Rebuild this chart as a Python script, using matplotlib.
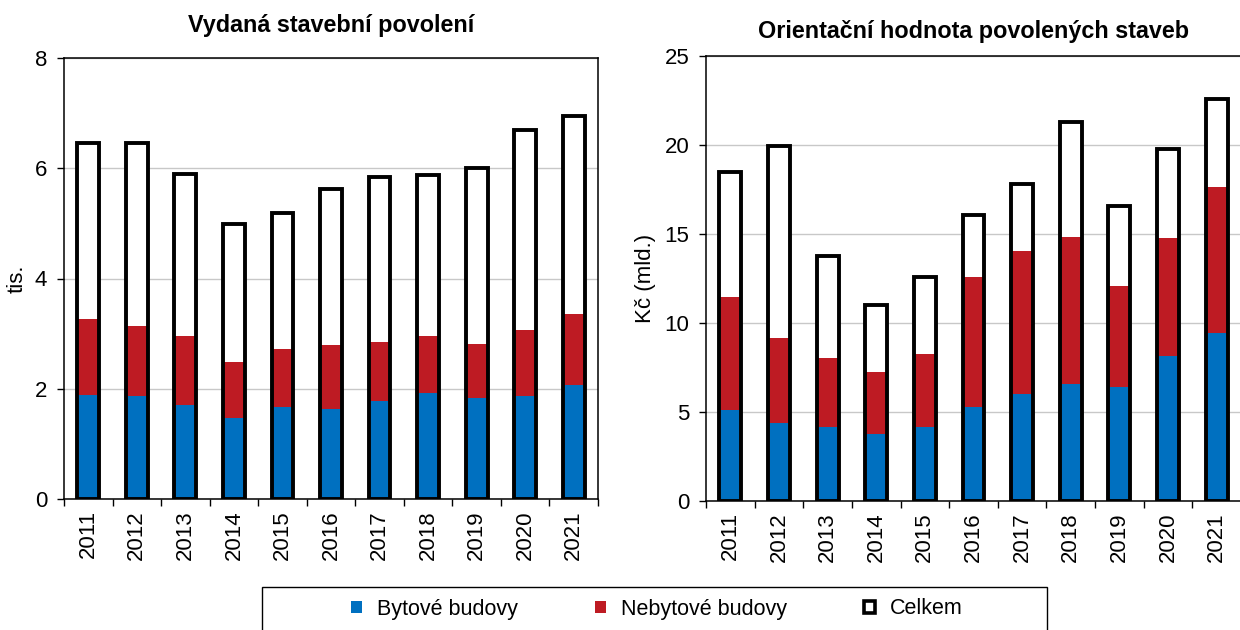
import numpy as np
import matplotlib
matplotlib.use("Agg")
import matplotlib.pyplot as plt
from matplotlib.patches import Patch, Rectangle

plt.rcParams['font.family'] = ['Liberation Sans', 'DejaVu Sans']

years = ['2011', '2012', '2013', '2014', '2015', '2016', '2017', '2018', '2019', '2020', '2021']

# vydana stavebni povoleni (tis.)
count_byt = [1.88, 1.86, 1.71, 1.47, 1.67, 1.63, 1.77, 1.92, 1.84, 1.86, 2.07]
count_nebyt = [1.39, 1.28, 1.25, 1.02, 1.06, 1.16, 1.08, 1.04, 0.97, 1.20, 1.28]
count_total = [6.45, 6.46, 5.89, 4.98, 5.18, 5.62, 5.84, 5.87, 6.01, 6.69, 6.95]

# orientacni hodnota (mld. Kc)
value_byt = [5.09, 4.40, 4.16, 3.76, 4.16, 5.26, 5.99, 6.55, 6.42, 8.13, 9.42]
value_nebyt = [6.37, 4.76, 3.85, 3.47, 4.12, 7.32, 8.05, 8.26, 5.66, 6.63, 8.22]
value_total = [18.48, 19.94, 13.74, 10.99, 12.60, 16.07, 17.81, 21.27, 16.59, 19.78, 22.57]

blue = '#0070c0'
red = '#be1b23'
W = 1240.0
H = 630.0
FS = 16


def panel(rect, byt, nebyt, total, ymax, ystep, title, ylabel, tpad, lpad):
    ax = fig.add_axes([rect[0] / W, 1 - rect[3] / H, (rect[2] - rect[0]) / W, (rect[3] - rect[1]) / H])
    x = np.arange(len(years))
    w = 0.45
    ax.bar(x, total, w, color='white', zorder=2)
    ax.bar(x, byt, w, color=blue, zorder=3)
    ax.bar(x, nebyt, w, bottom=byt, color=red, zorder=3)
    ax.bar(x, total, w, facecolor='none', edgecolor='black', linewidth=2.8, zorder=4)

    ax.set_xlim(-0.5, len(years) - 0.5)
    ax.set_ylim(0, ymax)
    ax.set_yticks(np.arange(0, ymax + 0.1, ystep))
    ax.yaxis.grid(True, color='#c8c8c8', linewidth=1)
    ax.set_axisbelow(True)

    ax.set_xticks(x)
    ax.set_xticklabels(years, rotation=90)
    ax.set_xticks(np.arange(-0.5, len(years)), minor=True)
    ax.tick_params(axis='x', which='major', length=0, pad=8, labelsize=FS)
    ax.tick_params(axis='x', which='minor', length=5, width=1, direction='out')
    ax.tick_params(axis='y', length=5, width=1, direction='out', pad=7, labelsize=FS)

    for s in ax.spines.values():
        s.set_linewidth(1.1)
        s.set_color('black')

    ax.set_title(title, fontsize=16.8, fontweight='bold', pad=tpad)
    ax.set_ylabel(ylabel, fontsize=FS, labelpad=lpad)
    return ax


fig = plt.figure(figsize=(12.4, 6.3), dpi=100)

panel((64, 58, 598, 499), count_byt, count_nebyt, count_total, 8, 2,
      'Vydaná stavební povolení', 'tis.', 19, 5)
panel((706, 56, 1241, 501), value_byt, value_nebyt, value_total, 25, 5,
      'Orientační hodnota povolených staveb', 'Kč (mld.)', 13, 6)

handles = [Patch(facecolor=blue, edgecolor='none'),
           Patch(facecolor=red, edgecolor='none'),
           Patch(facecolor='white', edgecolor='black', linewidth=2.6)]
labels = ['Bytové budovy', 'Nebytové budovy', 'Celkem']
fig.legend(handles, labels, loc='center', bbox_to_anchor=(657 / W, 1 - 609 / H),
           ncol=3, frameon=False, fontsize=15.5, handlelength=0.5, handleheight=0.5,
           handletextpad=0.7, columnspacing=3.6)

fig.patches.append(Rectangle((262 / W, -0.1), (1047 - 262) / W, 0.1 + (630 - 587) / H,
                             transform=fig.transFigure, fill=False,
                             edgecolor='black', linewidth=1))

fig.savefig('out.png', dpi=100)
